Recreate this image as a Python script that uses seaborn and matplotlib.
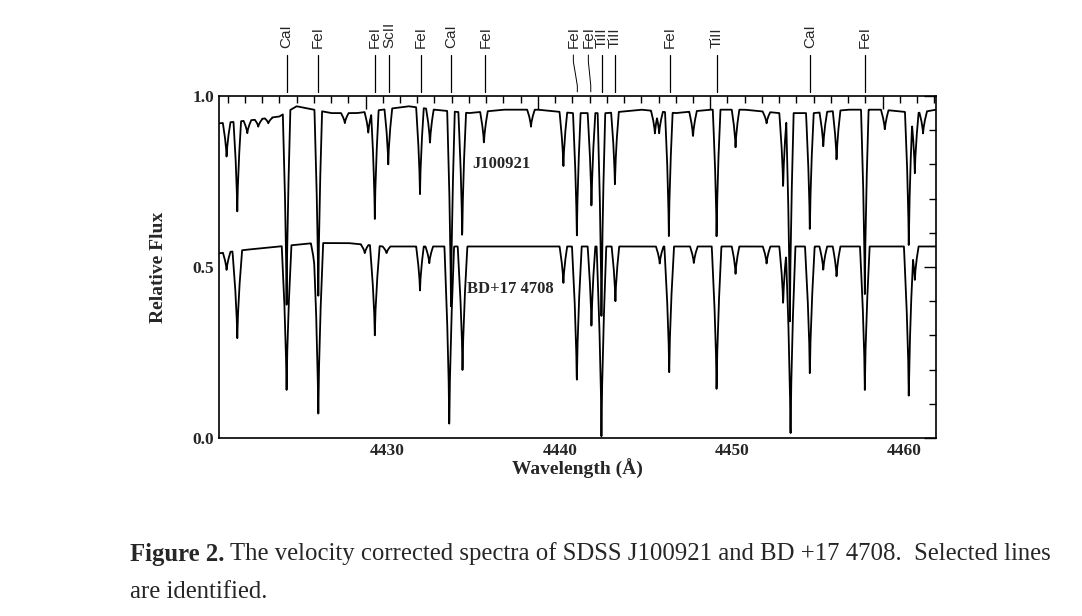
import numpy as np
import pandas as pd
import seaborn as sns
import matplotlib.pyplot as plt
import matplotlib.transforms as mtransforms
from matplotlib.ticker import MultipleLocator

# ---- data ----
# J100921 (upper spectrum): absorption line centres (Å) and minimum flux
j_line_wl = [4421.94, 4422.56, 4423.14, 4423.78, 4424.36, 4425.42, 4427.26, 4428.8, 4430.16, 4430.54,
             4431.32, 4433.16, 4433.74, 4434.96, 4435.61, 4436.87, 4439.6, 4441.48, 4442.26, 4443.11,
             4443.69, 4444.47, 4446.79, 4447.04, 4447.60, 4449.0, 4450.37, 4451.47, 4453.27, 4454.23,
             4454.62, 4455.78, 4456.56, 4457.33, 4458.97, 4460.13, 4461.52, 4461.87, 4462.35]
j_line_flux = [0.82, 0.66, 0.89, 0.91, 0.92, 0.38, 0.40, 0.92, 0.89, 0.64,
               0.80, 0.71, 0.86, 0.38, 0.58, 0.86, 0.91, 0.79, 0.58, 0.67,
               0.35, 0.74, 0.89, 0.89, 0.59, 0.88, 0.58, 0.85, 0.92, 0.73,
               0.33, 0.60, 0.85, 0.81, 0.42, 0.90, 0.56, 0.77, 0.89]
j_cont_wl = [4421.5, 4423.5, 4425.0, 4426.0, 4427.0, 4428.0, 4429.5, 4431.0, 4432.5, 4434.0, 4436.0,
             4438.0, 4440.0, 4442.0, 4444.0, 4446.0, 4448.0, 4450.0, 4452.0, 4454.0, 4456.0, 4458.0,
             4460.0, 4462.0, 4463.1]
j_cont_flux = [0.92, 0.93, 0.94, 0.97, 0.96, 0.95, 0.95, 0.96, 0.97, 0.96, 0.95,
               0.96, 0.96, 0.95, 0.95, 0.96, 0.95, 0.96, 0.96, 0.95, 0.95, 0.96,
               0.96, 0.95, 0.96]

# BD+17 4708 (lower spectrum)
b_line_wl = [4421.94, 4422.56, 4425.42, 4427.05, 4427.26, 4429.96, 4430.54, 4431.22, 4433.16, 4433.70,
             4434.86, 4435.63, 4441.48, 4442.26, 4443.11, 4443.69, 4444.50, 4447.07, 4447.62, 4449.05,
             4450.37, 4451.47, 4453.27, 4454.23, 4454.66, 4455.78, 4456.56, 4457.33, 4458.97, 4461.52,
             4461.87]
b_line_flux = [0.49, 0.29, 0.135, 0.49, 0.06, 0.54, 0.30, 0.54, 0.43, 0.51,
               0.03, 0.19, 0.45, 0.16, 0.32, 0.0, 0.40, 0.51, 0.19, 0.51,
               0.135, 0.48, 0.51, 0.39, 0.0, 0.18, 0.49, 0.47, 0.14, 0.12,
               0.46]
b_cont_wl = [4421.5, 4423.0, 4425.0, 4427.0, 4429.0, 4431.0, 4433.0, 4435.0, 4437.0, 4440.0,
             4443.0, 4446.0, 4449.0, 4452.0, 4455.0, 4458.0, 4461.0, 4463.1]
b_cont_flux = [0.54, 0.55, 0.56, 0.57, 0.57, 0.56, 0.56, 0.56, 0.56, 0.56,
               0.56, 0.56, 0.56, 0.56, 0.56, 0.56, 0.56, 0.56]

# identified lines (label, wavelength of marker top, wavelength of marker bottom)
id_labels = ["CaI", "FeI", "FeI", "ScII", "FeI", "CaI", "FeI", "FeI", "FeI", "TiII", "TiII",
             "FeI", "TiII", "CaI", "FeI"]
id_wl_top = [4425.42, 4427.25, 4430.55, 4431.36, 4433.21, 4434.98, 4436.95, 4442.06, 4442.93,
             4443.71, 4444.47, 4447.68, 4450.40, 4455.80, 4458.96]
id_wl_bot = [4425.42, 4427.25, 4430.55, 4431.36, 4433.21, 4434.98, 4436.95, 4442.29, 4443.07,
             4443.71, 4444.47, 4447.68, 4450.40, 4455.80, 4458.96]


def build(line_wl, line_flux, cont_wl, cont_flux):
    grid = np.linspace(cont_wl[0], cont_wl[-1], 4000)
    flux = np.interp(grid, cont_wl, cont_flux)
    for w, f in zip(line_wl, line_flux):
        c = float(np.interp(w, cont_wl, cont_flux))
        h = 0.22 if f > 0.3 else 0.28
        # piecewise profile through read values: centre, half-depth, wing
        prof = np.interp(np.abs(grid - w), [0, 0.12 * h, 0.45 * h, h],
                         [f, f + 0.25 * (c - f), c - 0.4 * (c - f), c], right=10.0)
        flux = np.minimum(flux, prof)
    return pd.DataFrame({"wl": grid, "flux": flux})


dj = build(j_line_wl, j_line_flux, j_cont_wl, j_cont_flux)
db = build(b_line_wl, b_line_flux, b_cont_wl, b_cont_flux)

sns.set_style("white")
plt.rcParams["font.family"] = ["Liberation Serif", "DejaVu Serif"]

fig = plt.figure(figsize=(10.82, 6.16), dpi=100)
ax = fig.add_axes([219 / 1082, 1 - 438 / 616, 717 / 1082, 342 / 616])
sns.lineplot(data=dj, x="wl", y="flux", ax=ax, color="black", lw=1.3, estimator=None, sort=False)
sns.lineplot(data=db, x="wl", y="flux", ax=ax, color="black", lw=1.3, estimator=None, sort=False)

ax.set_xlim(4421.5, 4463.1)
ax.set_ylim(0, 1.0)
ax.xaxis.set_major_locator(MultipleLocator(10))
ax.xaxis.set_minor_locator(MultipleLocator(1))
ax.yaxis.set_major_locator(MultipleLocator(0.5))
ax.yaxis.set_minor_locator(MultipleLocator(0.1))
ax.tick_params(which="both", direction="in", top=True, right=True, width=1, color="black")
ax.tick_params(which="major", length=9, labelsize=12.5)
ax.tick_params(which="minor", length=5)
for lab in ax.get_xticklabels() + ax.get_yticklabels():
    lab.set_fontweight("bold")
off = mtransforms.ScaledTranslation(0.22, 0, fig.dpi_scale_trans)
for lab in ax.get_xticklabels():
    lab.set_transform(lab.get_transform() + off)
ax.yaxis.set_major_formatter(plt.FormatStrFormatter("%.1f"))
for sp in ax.spines.values():
    sp.set_color("black")
    sp.set_linewidth(1.2)
ax.set_xlabel("Wavelength (Å)", fontsize=14, fontweight="bold", labelpad=0)
ax.set_ylabel("Relative Flux", fontsize=14, fontweight="bold", labelpad=18)

ax.text(4436.2, 0.80, "J100921", fontsize=12, fontweight="bold", va="center")
ax.text(4435.9, 0.436, "BD+17 4708", fontsize=12, fontweight="bold", va="center")

trans = ax.get_xaxis_transform()
for lab, wt, wb in zip(id_labels, id_wl_top, id_wl_bot):
    if wt == wb:
        ax.plot([wb, wt], [1.012, 1.12], color="black", lw=0.9, transform=trans, clip_on=False)
    else:
        ax.plot([wb, wb, (wb + wt) / 2, wt, wt], [1.012, 1.03, 1.066, 1.10, 1.12],
                color="black", lw=0.7, transform=trans, clip_on=False)
    ax.text(wt, 1.14, lab, rotation=90, ha="center", va="bottom", fontsize=11,
            family=["Liberation Sans", "DejaVu Sans"], transform=trans)

fs = 17.8
fig.text(130 / 1082, 1 - 554 / 616, "Figure 2.", fontsize=fs, fontweight="bold", va="center")
fig.text(230 / 1082, 1 - 554 / 616,
         "The velocity corrected spectra of SDSS J100921 and BD +17 4708.  Selected lines",
         fontsize=fs, va="center")
fig.text(130 / 1082, 1 - 592 / 616, "are identified.", fontsize=fs, va="center")

fig.savefig("out.png", dpi=100, facecolor="white")
